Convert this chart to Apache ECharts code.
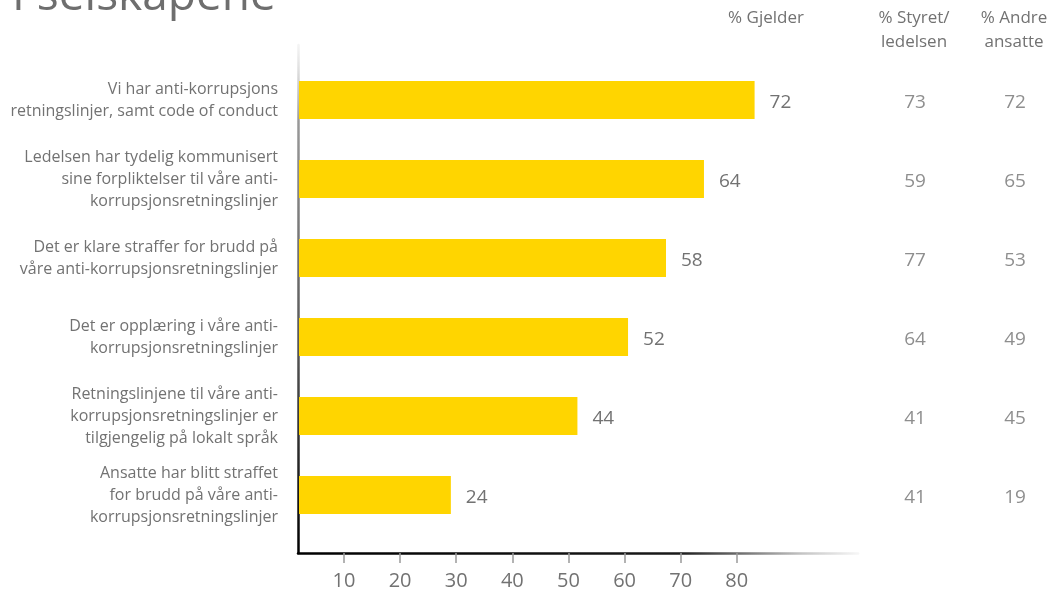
<!DOCTYPE html>
<html>
<head>
<meta charset="utf-8">
<script src="https://cdn.jsdelivr.net/npm/echarts@6/dist/echarts.min.js"></script>
<style>html,body{margin:0;padding:0;background:#fff}#c{width:1064px;height:591px}</style>
</head>
<body>
<div id="c"></div>
<script>
var title = 'I selskapene';
var categories = [
  'Vi har anti-korrupsjons\nretningslinjer, samt code of conduct',
  'Ledelsen har tydelig kommunisert\nsine forpliktelser til våre anti-\nkorrupsjonsretningslinjer',
  'Det er klare straffer for brudd på\nvåre anti-korrupsjonsretningslinjer',
  'Det er opplæring i våre anti-\nkorrupsjonsretningslinjer',
  'Retningslinjene til våre anti-\nkorrupsjonsretningslinjer er\ntilgjengelig på lokalt språk',
  'Ansatte har blitt straffet\nfor brudd på våre anti-\nkorrupsjonsretningslinjer'
];
var gjelder = [72, 64, 58, 52, 44, 24];
var styret = [73, 59, 77, 64, 41, 41];
var andre = [72, 65, 53, 49, 45, 19];
var headerMain = '% Gjelder';
var columnHeaders = ['% Styret/\nledelsen', '% Andre\nansatte'];
var tickValues = [10, 20, 30, 40, 50, 60, 70, 80];

var FONT = '"Open Sans", "Noto Sans", sans-serif';
var GRAY = '#727272';
var idx = categories.map(function (_, i) { return i; });

var chart = echarts.init(document.getElementById('c'), null, {renderer: 'canvas'});
chart.setOption({
  backgroundColor: '#fff',
  animation: false,
  grid: [
    {left: 299, top: 60.5, width: 560, height: 474, containLabel: false},
    {left: 298, top: 45, width: 560, height: 508, containLabel: false},
    {left: 864, top: 60.5, width: 216, height: 474, containLabel: false}
  ],
  xAxis: [
    {gridIndex: 0, type: 'value', min: 0, max: 88.5, show: false},
    {gridIndex: 1, type: 'value', min: 1.8, max: 101.6, position: 'bottom',
      splitLine: {show: false},
      axisLine: {show: true, lineStyle: {width: 2.5, color: {type: 'linear', global: true, x: 298, y: 0, x2: 858, y2: 0,
        colorStops: [{offset: 0, color: '#000'}, {offset: 0.68, color: '#1a1a1a'}, {offset: 0.8, color: '#777'}, {offset: 0.9, color: '#c4c4c4'}, {offset: 1, color: '#f6f6f6'}]}}},
      axisTick: {show: true, inside: false, customValues: tickValues, length: 10, lineStyle: {color: '#9a9a9a', width: 1.5}},
      axisLabel: {show: true, customValues: tickValues, margin: 18, fontSize: 20, color: GRAY, fontFamily: FONT}
    },
    {gridIndex: 2, type: 'category', data: columnHeaders, position: 'top',
      axisLine: {show: false}, axisTick: {show: false}, splitLine: {show: false},
      axisLabel: {margin: 6, fontSize: 17, lineHeight: 24, color: GRAY, fontFamily: FONT, verticalAlign: 'bottom'}
    }
  ],
  yAxis: [
    {gridIndex: 0, type: 'category', data: categories, inverse: true,
      axisLine: {show: false}, axisTick: {show: false}, splitLine: {show: false},
      axisLabel: {margin: 21, fontSize: 16, lineHeight: 22, color: GRAY, fontFamily: FONT, align: 'right'}
    },
    {gridIndex: 1, type: 'value', min: 0, max: 1, splitLine: {show: false}, axisLabel: {show: false}, axisTick: {show: false},
      axisLine: {show: true, lineStyle: {width: 2.5, color: {type: 'linear', global: true, x: 0, y: 45, x2: 0, y2: 553,
        colorStops: [{offset: 0, color: 'rgba(200,200,200,0.2)'}, {offset: 0.15, color: '#999'}, {offset: 0.6, color: '#555'}, {offset: 1, color: '#000'}]}}}
    },
    {gridIndex: 2, type: 'category', data: idx, inverse: true, show: false}
  ],
  graphic: [
    {type: 'text', left: 12, top: -26, style: {text: title, font: '46px ' + FONT, fill: '#6e6e6e'}},
    {type: 'text', x: 766, y: 18, style: {text: headerMain, font: '17px ' + FONT, fill: GRAY, align: 'center', verticalAlign: 'middle'}}
  ],
  series: [
    {type: 'bar', xAxisIndex: 0, yAxisIndex: 0, data: gjelder, barWidth: 38,
      itemStyle: {color: '#FFD500'},
      label: {show: true, position: 'right', distance: 15, fontSize: 19, color: GRAY, fontFamily: FONT, offset: [0, 3]}
    },
    {type: 'scatter', xAxisIndex: 2, yAxisIndex: 2, symbolSize: 1, itemStyle: {color: 'rgba(0,0,0,0)'},
      data: styret.map(function (v, i) { return [0, i, v]; }),
      label: {show: true, position: 'inside', formatter: function (p) { return p.value[2]; }, fontSize: 19, color: GRAY, fontFamily: FONT, offset: [1, 3]}
    },
    {type: 'scatter', xAxisIndex: 2, yAxisIndex: 2, symbolSize: 1, itemStyle: {color: 'rgba(0,0,0,0)'},
      data: andre.map(function (v, i) { return [1, i, v]; }),
      label: {show: true, position: 'inside', formatter: function (p) { return p.value[2]; }, fontSize: 19, color: GRAY, fontFamily: FONT, offset: [1, 3]}
    }
  ]
});
</script>
</body>
</html>
